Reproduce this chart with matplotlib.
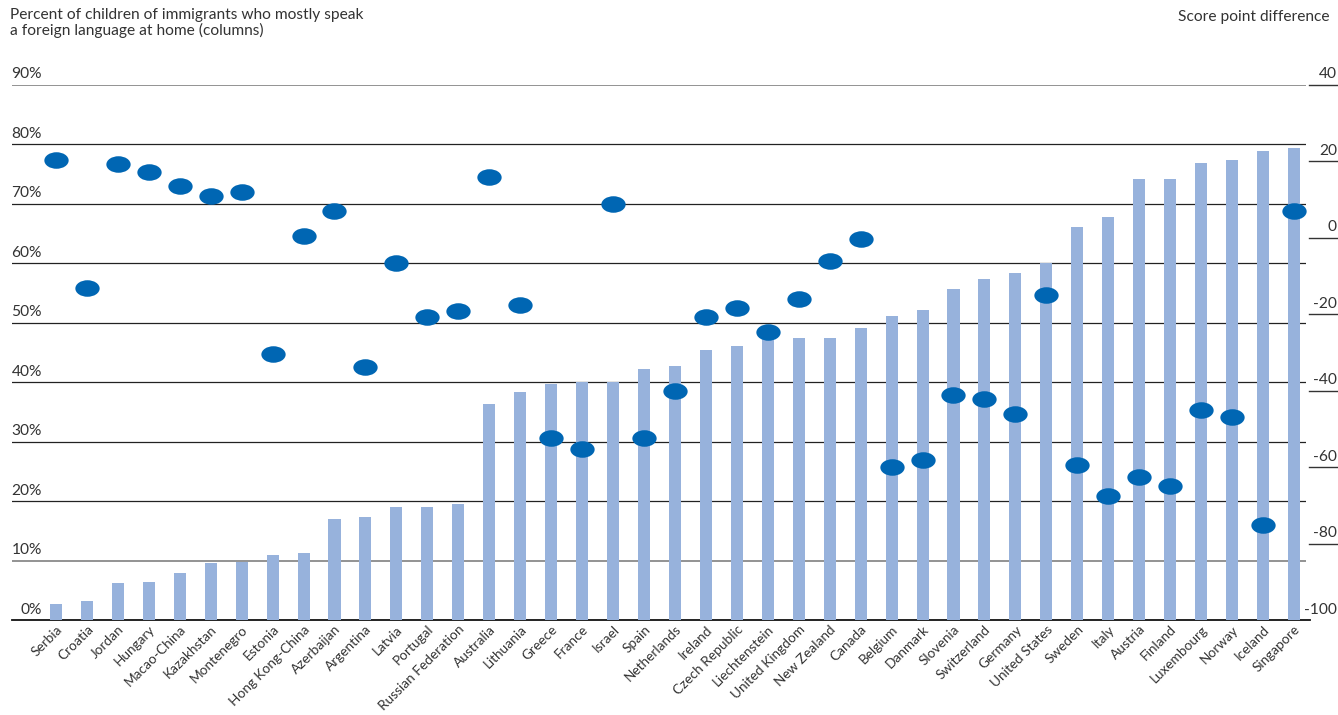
import matplotlib
matplotlib.use("Agg")
import matplotlib.pyplot as plt
from matplotlib.path import Path
from matplotlib.transforms import Affine2D
import numpy as np

plt.rcParams['font.family'] = ['Lato', 'DejaVu Sans']

countries = ["Serbia", "Croatia", "Jordan", "Hungary", "Macao-China", "Kazakhstan",
             "Montenegro", "Estonia", "Hong Kong-China", "Azerbaijan", "Argentina",
             "Latvia", "Portugal", "Russian Federation", "Australia", "Lithuania",
             "Greece", "France", "Israel", "Spain", "Netherlands", "Ireland",
             "Czech Republic", "Liechtenstein", "United Kingdom", "New Zealand",
             "Canada", "Belgium", "Danmark", "Slovenia", "Switzerland", "Germany",
             "United States", "Sweden", "Italy", "Austria", "Finland", "Luxembourg",
             "Norway", "Iceland", "Singapore"]

pct_foreign = [2.8, 3.2, 6.2, 6.5, 7.9, 9.7, 9.8, 11.0, 11.3, 17.0, 17.4,
               19.1, 19.1, 19.5, 36.3, 38.3, 39.7, 40.0, 40.0, 42.3, 42.7, 45.4,
               46.1, 48.2, 47.5, 47.5, 49.2, 51.2, 52.2, 55.6, 57.3, 58.3,
               60.0, 66.1, 67.8, 74.2, 74.2, 76.9, 77.4, 78.9, 79.3]

score_diff = [20.3, -13.0, 19.2, 17.1, 13.5, 10.8, 12.0, -30.3, 0.5, 7.1, -33.9,
              -6.7, -20.6, -19.1, 16.0, -17.6, -52.3, -55.2, 8.8, -52.4, -40.0, -20.7,
              -18.3, -24.5, -16.0, -6.1, -0.4, -60.0, -58.1, -41.1, -42.1, -46.1,
              -14.9, -59.3, -67.5, -62.5, -64.9, -45.1, -46.8, -75.0, 6.9]

left_ticks = [0, 10, 20, 30, 40, 50, 60, 70, 80, 90]
left_labels = ["0%", "10%", "20%", "30%", "40%", "50%", "60%", "70%", "80%", "90%"]
right_ticks = [-100, -80, -60, -40, -20, 0, 20, 40]
right_labels = ["-100", "-80", "-60", "-40", "-20", "0", "20", "40"]

W, H = 1338, 715
fig = plt.figure(figsize=(W / 100, H / 100), dpi=100)
x0, x1 = 12, 1306
ytop, ybot = 84.7, 620.4
ax = fig.add_axes([x0 / W, (H - ybot) / H, (x1 - x0) / W, (ybot - ytop) / H])
ax.set_ylim(0, 90)
ax.set_xlim(-1.42, 40.39)
for s in ax.spines.values():
    s.set_visible(False)
ax.set_yticks([])

txt = '#333333'
fs = 11.2

# gridlines
for t in left_ticks:
    if t == 0:
        ax.axhline(t, color='#111111', lw=1.3, zorder=1, xmax=1.003, clip_on=False)
    elif t in (10, 90):
        ax.axhline(t, color='#8a8a8a', lw=1.3, zorder=1)
    else:
        ax.axhline(t, color='#222222', lw=0.9, zorder=1)

x = np.arange(len(countries))
ax.bar(x, pct_foreign, width=0.39, color='#97B2DC', zorder=2)

# left labels
for t, lab in zip(left_ticks, left_labels):
    ax.annotate(lab, xy=(0, t), xycoords=('axes fraction', 'data'),
                xytext=(30 * 0.72, 2.5), textcoords='offset points',
                ha='right', va='bottom', fontsize=fs, color=txt)

# right axis
ax2 = ax.twinx()
ax2.set_ylim(-100, 40)
for s in ax2.spines.values():
    s.set_visible(False)
ax2.set_yticks([])

circ = Path.unit_circle()
ell = circ.transformed(Affine2D().scale(1.0, 0.68))
ax2.plot(x, score_diff, linestyle='none', marker=ell, markersize=17.5,
         color='#0066B3', markeredgewidth=0, zorder=5)

for t, lab in zip(right_ticks, right_labels):
    ax2.annotate(lab, xy=(1, t), xycoords=('axes fraction', 'data'),
                 xytext=(31 * 0.72, 2.5), textcoords='offset points',
                 ha='right', va='bottom', fontsize=fs, color=txt)
    if t != -100:
        ax2.plot([1 + 3 / (x1 - x0), 1 + 31 / (x1 - x0)], [t, t],
                 transform=ax2.get_yaxis_transform(), color='#333333',
                 lw=1.0, clip_on=False)

ax.set_xticks(x)
ax.set_xticklabels(countries, rotation=45, ha='right', rotation_mode='anchor',
                   fontsize=9.8, color=txt)
ax.tick_params(axis='x', length=0, pad=2)

fig.text(10 / W, 1 - 8 / H,
         "Percent of children of immigrants who mostly speak\na foreign language at home (columns)",
         ha='left', va='top', fontsize=fs, color=txt, linespacing=1.05)
fig.text(1330 / W, 1 - 10 / H, "Score point difference",
         ha='right', va='top', fontsize=fs, color=txt)

fig.savefig("out.png", dpi=100)
